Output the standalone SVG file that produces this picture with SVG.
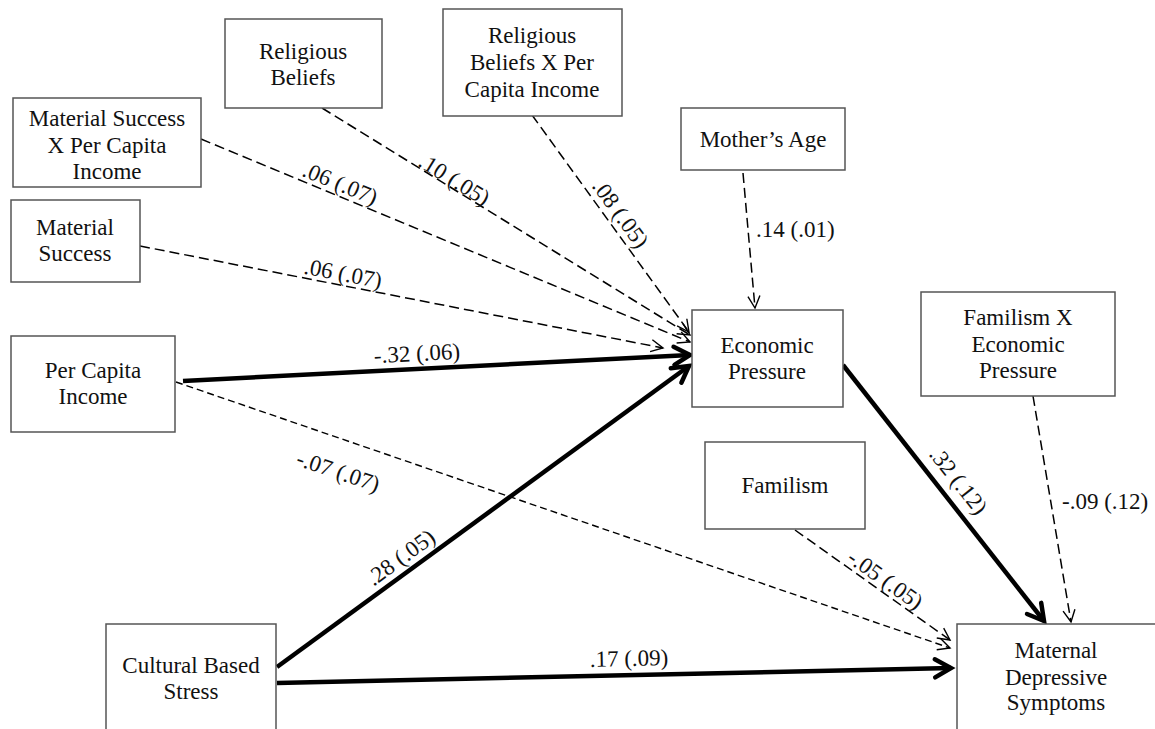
<svg xmlns="http://www.w3.org/2000/svg" width="1155" height="729" viewBox="0 0 1155 729">
<style>
  .box { fill: #fff; stroke: #555; stroke-width: 1.5; }
  .t { font-family: "Liberation Serif", "Times New Roman", serif; font-size: 23px; fill: #111; text-anchor: middle; }
  .lbl { font-family: "Liberation Serif", "Times New Roman", serif; font-size: 23px; fill: #111; }
  .dash { fill: none; stroke: #000; stroke-width: 1.5; stroke-dasharray: 10 5; marker-end: url(#ad); }
  .dash2 { fill: none; stroke: #000; stroke-width: 1.4; stroke-dasharray: 7 4; marker-end: url(#ad); }
  .thick { fill: none; stroke: #000; stroke-width: 4.5; marker-end: url(#at); }
</style>
<defs>
  <marker id="ad" markerUnits="userSpaceOnUse" viewBox="-20 -12 24 24" markerWidth="24" markerHeight="24" refX="0" refY="0" orient="auto" overflow="visible">
    <path d="M-12,-6 L0,0 L-12,6" fill="none" stroke="#000" stroke-width="1.4"/>
  </marker>
  <marker id="at" markerUnits="userSpaceOnUse" viewBox="-20 -12 24 24" markerWidth="24" markerHeight="24" refX="0" refY="0" orient="auto" overflow="visible">
    <path d="M-16,-9 L0,0 L-16,9" fill="none" stroke="#000" stroke-width="4.5" stroke-linecap="round" stroke-linejoin="miter"/>
  </marker>
</defs>
<rect width="1155" height="729" fill="#fff"/>

<g id="connectors">
  <line class="dash" x1="532" y1="115" x2="689" y2="332"/>
  <line class="dash" x1="322" y1="108" x2="690" y2="335"/>
  <line class="dash" x1="201" y1="139" x2="690" y2="342"/>
  <line class="dash" x1="140" y1="246" x2="663" y2="348"/>
  <line class="dash" x1="743" y1="173" x2="755" y2="308"/>
  <line class="thick" x1="183" y1="381" x2="690" y2="355"/>
  <line class="dash2" x1="176" y1="382" x2="950" y2="648"/>
  <line class="thick" x1="277" y1="667" x2="689" y2="366"/>
  <line class="thick" x1="277" y1="683" x2="951" y2="668"/>
  <line class="thick" x1="843" y1="365" x2="1044" y2="621"/>
  <line class="dash" x1="1033" y1="396" x2="1071" y2="622"/>
  <line class="dash" x1="795" y1="530" x2="950" y2="640"/>

  <text class="lbl" text-anchor="middle" transform="translate(340,184) rotate(22.5)" y="7">.06 (.07)</text>
  <text class="lbl" text-anchor="middle" transform="translate(454,180) rotate(31.7)" y="7">.10 (.05)</text>
  <text class="lbl" text-anchor="middle" transform="translate(343,274) rotate(11)" y="7">.06 (.07)</text>
  <text class="lbl" text-anchor="middle" transform="translate(620,214) rotate(54)" y="7">.08 (.05)</text>
  <text class="lbl" x="756" y="237">.14 (.01)</text>
  <text class="lbl" text-anchor="middle" transform="translate(417,354) rotate(-2.9)" y="7">-.32 (.06)</text>
  <text class="lbl" text-anchor="middle" transform="translate(338,472) rotate(18.7)" y="7">-.07 (.07)</text>
  <text class="lbl" text-anchor="middle" transform="translate(401,558) rotate(-36.2)" y="7">.28 (.05)</text>
  <text class="lbl" text-anchor="middle" transform="translate(629,659) rotate(-1.3)" y="7">.17 (.09)</text>
  <text class="lbl" text-anchor="middle" transform="translate(958,481) rotate(51.8)" y="7">.32 (.12)</text>
  <text class="lbl" x="1062" y="509">-.09 (.12)</text>
  <text class="lbl" text-anchor="middle" transform="translate(885,580) rotate(35.4)" y="7">-.05 (.05)</text>
</g>

<g id="religious-beliefs">
  <rect class="box" x="225" y="19" width="157" height="89"/>
  <text class="t" x="303" y="59">Religious</text>
  <text class="t" x="303" y="85">Beliefs</text>
</g>
<g id="material-success-x-pci">
  <rect class="box" x="13" y="98" width="188" height="89"/>
  <text class="t" x="107" y="126">Material Success</text>
  <text class="t" x="107" y="153">X Per Capita</text>
  <text class="t" x="107" y="179">Income</text>
</g>
<g id="material-success">
  <rect class="box" x="11" y="200" width="129" height="82"/>
  <text class="t" x="75" y="235">Material</text>
  <text class="t" x="75" y="261">Success</text>
</g>
<g id="religious-beliefs-x-pci">
  <rect class="box" x="443" y="9" width="179" height="107"/>
  <text class="t" x="532" y="43">Religious</text>
  <text class="t" x="532" y="70">Beliefs X Per</text>
  <text class="t" x="532" y="97">Capita Income</text>
</g>
<g id="mothers-age">
  <rect class="box" x="681" y="108" width="164" height="62"/>
  <text class="t" x="763" y="147">Mother’s Age</text>
</g>
<g id="per-capita-income">
  <rect class="box" x="11" y="336" width="164" height="96"/>
  <text class="t" x="93" y="378">Per Capita</text>
  <text class="t" x="93" y="404">Income</text>
</g>
<g id="cultural-based-stress">
  <rect class="box" x="106" y="624" width="170" height="120"/>
  <text class="t" x="191" y="673">Cultural Based</text>
  <text class="t" x="191" y="699">Stress</text>
</g>
<g id="economic-pressure">
  <rect class="box" x="692" y="310" width="151" height="97"/>
  <text class="t" x="767" y="353">Economic</text>
  <text class="t" x="767" y="379">Pressure</text>
</g>
<g id="familism-x-ep">
  <rect class="box" x="921" y="292" width="194" height="104"/>
  <text class="t" x="1018" y="325">Familism X</text>
  <text class="t" x="1018" y="352">Economic</text>
  <text class="t" x="1018" y="378">Pressure</text>
</g>
<g id="familism">
  <rect class="box" x="705" y="442" width="160" height="87"/>
  <text class="t" x="785" y="493">Familism</text>
</g>
<g id="maternal-depressive-symptoms">
  <rect class="box" x="957" y="624" width="210" height="120"/>
  <text class="t" x="1056" y="658">Maternal</text>
  <text class="t" x="1056" y="685">Depressive</text>
  <text class="t" x="1056" y="710">Symptoms</text>
</g>
</svg>
